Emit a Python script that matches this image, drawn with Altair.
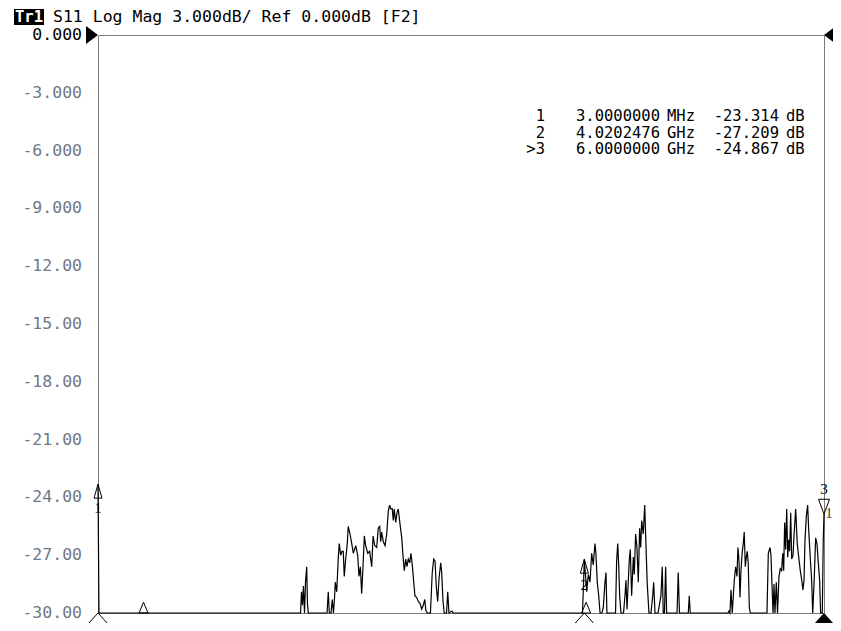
import altair as alt
import pandas as pd

# ---- trace: S11 log magnitude (GHz, dB); values at -30 sit on the bottom of the display ----
freq_ghz = [
    0.003, 0.011, 1.672, 1.676, 1.684, 1.692, 1.700, 1.709, 1.717, 1.727, 1.733, 1.740,
    1.895, 1.905, 1.914, 1.928, 1.938, 1.948, 1.957, 1.963, 1.975, 1.988, 1.996, 2.008,
    2.018, 2.029, 2.037, 2.049, 2.062, 2.070, 2.085, 2.099, 2.112, 2.132, 2.148, 2.159,
    2.170, 2.181, 2.192, 2.203, 2.214, 2.231, 2.247, 2.264, 2.275, 2.289, 2.305, 2.318,
    2.330, 2.338, 2.346, 2.360, 2.374, 2.388, 2.401, 2.412, 2.421, 2.434, 2.442, 2.450,
    2.462, 2.473, 2.483, 2.498, 2.512, 2.522, 2.533, 2.545, 2.555, 2.566, 2.578, 2.588,
    2.599, 2.611, 2.621, 2.635, 2.649, 2.663, 2.677, 2.690, 2.702, 2.712, 2.725, 2.749,
    2.764, 2.776, 2.787, 2.797, 2.809, 2.820, 2.834, 2.842, 2.853, 2.863, 2.882, 2.892,
    2.902, 2.927, 2.935,
    4.001, 4.005, 4.013, 4.0202, 4.040, 4.053, 4.067, 4.081, 4.094, 4.108, 4.116, 4.127,
    4.139, 4.150, 4.166, 4.177, 4.191, 4.199, 4.207, 4.278, 4.287, 4.296, 4.304, 4.312,
    4.323, 4.344, 4.356, 4.364, 4.373, 4.383, 4.392, 4.400, 4.411, 4.425, 4.433, 4.444,
    4.455, 4.466, 4.477, 4.486, 4.494, 4.507, 4.519, 4.530, 4.540, 4.554, 4.571, 4.585,
    4.593, 4.604, 4.629, 4.653, 4.664, 4.672, 4.682, 4.692, 4.700, 4.786, 4.796, 4.806,
    4.879, 4.887, 4.895,
    5.207, 5.215, 5.223, 5.232, 5.242, 5.259, 5.270, 5.281, 5.289, 5.298, 5.306, 5.314,
    5.325, 5.333, 5.341, 5.350, 5.358, 5.366, 5.374, 5.383, 5.391, 5.529, 5.540, 5.554,
    5.562, 5.570, 5.579, 5.587, 5.595, 5.606, 5.616, 5.628, 5.639, 5.650, 5.659, 5.667,
    5.675, 5.683, 5.692, 5.700, 5.708, 5.716, 5.725, 5.733, 5.744, 5.754, 5.766, 5.779,
    5.793, 5.804, 5.816, 5.826, 5.835, 5.843, 5.854, 5.865, 5.873, 5.887, 5.898, 5.907,
    5.920, 5.931, 5.942, 5.953, 5.964, 5.972, 5.986, 5.994, 6.000,
]
s11_db = [
    -23.314, -30.0, -30.0, -30.0, -28.9, -29.6, -28.6, -30.0, -28.4, -27.6, -29.5, -30.0,
    -30.0, -28.9, -30.0, -30.0, -29.3, -30.0, -29.2, -28.4, -28.9, -27.1, -26.4, -27.0,
    -26.8, -26.8, -28.1, -27.2, -26.4, -25.5, -25.9, -26.4, -26.9, -26.5, -27.0, -28.1,
    -27.6, -29.0, -27.6, -26.0, -26.5, -26.9, -26.8, -27.6, -26.0, -26.5, -26.6, -25.6,
    -25.5, -26.3, -25.8, -26.3, -26.5, -25.9, -24.7, -24.4, -24.6, -24.6, -25.2, -24.6,
    -25.3, -24.8, -24.6, -25.4, -26.1, -27.0, -27.8, -27.2, -27.6, -27.2, -27.4, -26.9,
    -27.5, -28.4, -29.1, -29.2, -29.4, -29.5, -29.8, -29.6, -29.3, -29.9, -30.0, -30.0,
    -27.9, -27.2, -27.3, -28.6, -29.4, -28.2, -27.4, -27.9, -29.4, -30.0, -30.0, -28.9,
    -30.0, -29.9, -30.0,
    -30.0, -30.0, -28.6, -27.209, -28.9, -28.0, -28.4, -26.9, -27.5, -26.4, -26.9, -28.4,
    -29.1, -30.0, -30.0, -29.7, -28.4, -27.9, -30.0, -30.0, -27.3, -26.4, -27.5, -29.1,
    -30.0, -30.0, -29.1, -28.3, -29.8, -28.4, -27.2, -26.7, -29.1, -27.1, -28.0, -25.9,
    -26.6, -28.4, -25.6, -26.6, -25.2, -25.9, -24.4, -26.6, -28.5, -30.0, -30.0, -29.1,
    -28.4, -30.0, -30.0, -29.1, -27.6, -30.0, -30.0, -27.6, -30.0, -30.0, -27.9, -30.0,
    -30.0, -29.1, -30.0,
    -30.0, -29.9, -30.0, -28.8, -30.0, -28.3, -27.6, -28.1, -26.6, -27.3, -29.2, -27.8,
    -26.8, -26.4, -25.8, -27.6, -27.1, -26.8, -27.4, -29.7, -30.0, -30.0, -26.9, -26.6,
    -27.0, -28.5, -30.0, -28.5, -30.0, -28.4, -30.0, -28.1, -27.7, -27.8, -26.9, -27.8,
    -25.3, -26.7, -24.6, -27.1, -26.2, -26.8, -24.8, -27.2, -27.0, -25.8, -24.6, -26.4,
    -27.2, -27.8, -28.3, -28.8, -28.3, -26.2, -25.0, -24.4, -25.6, -27.2, -28.3, -30.0,
    -28.1, -26.1, -26.4, -27.4, -28.3, -30.0, -30.0, -26.2, -24.867,
]

# ---- markers ----
marker_ids = ["1", "2", "3"]
marker_freq_ghz = [0.003, 4.0202476, 6.0]
marker_db = [-23.314, -27.209, -24.867]
readout_ids = ["1", "2", ">3"]
readout_freq = ["3.0000000", "4.0202476", "6.0000000"]
readout_unit = ["MHz", "GHz", "GHz"]
readout_val = ["-23.314", "-27.209", "-24.867"]
small_marker_freq_ghz = [0.379, 4.035]

# ---- axes ----
freq_start, freq_stop = 0.003, 6.0
y_ticks = [0, -3, -6, -9, -12, -15, -18, -21, -24, -27, -30]
y_tick_labels = ["0.000", "-3.000", "-6.000", "-9.000", "-12.00", "-15.00",
                 "-18.00", "-21.00", "-24.00", "-27.00", "-30.00"]
header = "S11 Log Mag 3.000dB/ Ref 0.000dB [F2]"

x_grid = [freq_start + k * (freq_stop - freq_start) / 10 for k in range(1, 10)]

MONO = "DejaVu Sans Mono"
xs = alt.Scale(domain=[freq_start, freq_stop], nice=False, zero=False)
ys = alt.Scale(domain=[-30, 0], nice=False, zero=False)

trace_df = pd.DataFrame({"f": freq_ghz, "db": s11_db})
mk_df = pd.DataFrame({"id": marker_ids, "f": marker_freq_ghz, "db": marker_db})
ylab_df = pd.DataFrame({"db": y_ticks, "lab": y_tick_labels})
one = pd.DataFrame({"a": [0]})

grid = alt.Chart(trace_df).mark_line(opacity=0).encode(
    x=alt.X("f:Q", scale=xs, axis=alt.Axis(values=x_grid, grid=True, labels=False, ticks=False,
                                             domain=False, title=None, gridColor="#c8c8c8",
                                             gridWidth=1, gridOpacity=1)),
    y=alt.Y("db:Q", scale=ys, axis=alt.Axis(values=y_ticks[1:-1], grid=True, labels=False,
                                              ticks=False, domain=False, title=None,
                                              gridColor="#c8c8c8", gridWidth=1, gridOpacity=1)),
)

trace = alt.Chart(trace_df).mark_line(color="black", strokeWidth=1.2, interpolate="linear").encode(
    x=alt.X("f:Q", scale=xs, axis=None),
    y=alt.Y("db:Q", scale=ys, axis=None),
    order=alt.Order("f:Q"),
)

ylabels = alt.Chart(ylab_df).mark_text(align="right", baseline="middle", font=MONO,
                                        fontSize=16.5).encode(
    x=alt.value(-16),
    y=alt.Y("db:Q", scale=ys, axis=None),
    text="lab:N",
    color=alt.condition(alt.datum.db == 0, alt.value("#000000"), alt.value("#6d7888")),
)

# marker triangles on the trace
m12 = alt.Chart(mk_df).transform_filter(alt.datum.id != "3").mark_point(
    shape="M0,0 L-1,3.5 L1,3.5 Z", size=64, filled=False, color="black", strokeWidth=1, opacity=1
).encode(x=alt.X("f:Q", scale=xs, axis=None), y=alt.Y("db:Q", scale=ys, axis=None))
m3 = alt.Chart(mk_df).transform_filter(alt.datum.id == "3").mark_point(
    shape="M0,0 L-1,-2.7 L1,-2.7 Z", size=121, filled=False, color="black", strokeWidth=1, opacity=1
).encode(x=alt.X("f:Q", scale=xs, axis=None), y=alt.Y("db:Q", scale=ys, axis=None))

def mlabel(mid, dx, dy, text=None, color="black"):
    enc = dict(x=alt.X("f:Q", scale=xs, axis=None), y=alt.Y("db:Q", scale=ys, axis=None))
    enc["text"] = alt.value(text) if text else alt.Text("id:N")
    return alt.Chart(mk_df).transform_filter(alt.datum.id == mid).mark_text(
        font="Liberation Serif", fontSize=15, dx=dx, dy=dy, color=color, baseline="middle",
        align="center").encode(**enc)

labels = [mlabel("1", 0, 24), mlabel("2", 0, 26), mlabel("3", 0, -25),
          mlabel("3", 5, -1, text="1", color="#5a3a10")]

# stimulus markers below the axis
stim_open = alt.Chart(mk_df).transform_filter(alt.datum.id != "3").mark_point(
    shape="M0,0 L-1,1.1 L1,1.1 Z", size=625, filled=False, color="black", strokeWidth=1, opacity=1
).encode(x=alt.X("f:Q", scale=xs, axis=None), y=alt.datum(-30))
stim_act = alt.Chart(mk_df).transform_filter(alt.datum.id == "3").mark_point(
    shape="M0,0 L-1,1.1 L1,1.1 Z", size=625, filled=True, color="black", opacity=1
).encode(x=alt.X("f:Q", scale=xs, axis=None), y=alt.datum(-30))
small = alt.Chart(pd.DataFrame({"f": small_marker_freq_ghz})).mark_point(
    shape="M0,-2.4 L-1,0 L1,0 Z", size=81, filled=False, color="black", strokeWidth=1, opacity=1
).encode(x=alt.X("f:Q", scale=xs, axis=None), y=alt.datum(-30))

# reference level arrows
ref_l = alt.Chart(one).mark_point(shape="M0,0 L-1.33,-1 L-1.33,1 Z", size=324, filled=True,
                                  color="black", opacity=1).encode(
    x=alt.value(0), y=alt.datum(0))
ref_r = alt.Chart(one).mark_point(shape="M0,0 L1.33,-1 L1.33,1 Z", size=324, filled=True,
                                  color="black", opacity=1).encode(
    x=alt.value(726), y=alt.datum(0))

# header
tr_box = alt.Chart(one).mark_rect(color="black").encode(
    x=alt.value(-84), x2=alt.value(-54), y=alt.value(-26), y2=alt.value(-10))
tr_txt = alt.Chart(one).mark_text(font=MONO, fontSize=15.5, fontWeight="bold", color="white",
                                  align="center", baseline="middle").encode(
    x=alt.value(-69), y=alt.value(-18), text=alt.value("Tr1"))
head = alt.Chart(one).mark_text(font=MONO, fontSize=16.5, color="black", align="left",
                                baseline="middle").encode(
    x=alt.value(-45), y=alt.value(-18), text=alt.value(header))

# marker readout table, column by column
readout = []
columns = [(readout_ids, 447, "right"), (readout_freq, 562, "right"),
           (readout_unit, 569, "left"), (readout_val, 681, "right"),
           (["dB", "dB", "dB"], 688, "left")]
for col, xpos, al in columns:
    for i, txt in enumerate(col):
        readout.append(
            alt.Chart(one).mark_text(font=MONO, fontSize=15.5, color="black", align=al,
                                     baseline="middle").encode(
                x=alt.value(xpos), y=alt.value(81 + i * 16.7), text=alt.value(txt)))

chart = alt.layer(
    grid, trace, ylabels, m12, m3, *labels, stim_open, stim_act, small, ref_l, ref_r,
    tr_box, tr_txt, head, *readout
).properties(
    width=726, height=578,
    autosize=alt.AutoSizeParams(type="none"),
    padding={"left": 90, "top": 27, "right": 9, "bottom": 10},
    background="white",
).configure_view(stroke="#7a7a7a", strokeWidth=1)

chart.save("out.html", embed_options={"renderer": "svg", "actions": False})
